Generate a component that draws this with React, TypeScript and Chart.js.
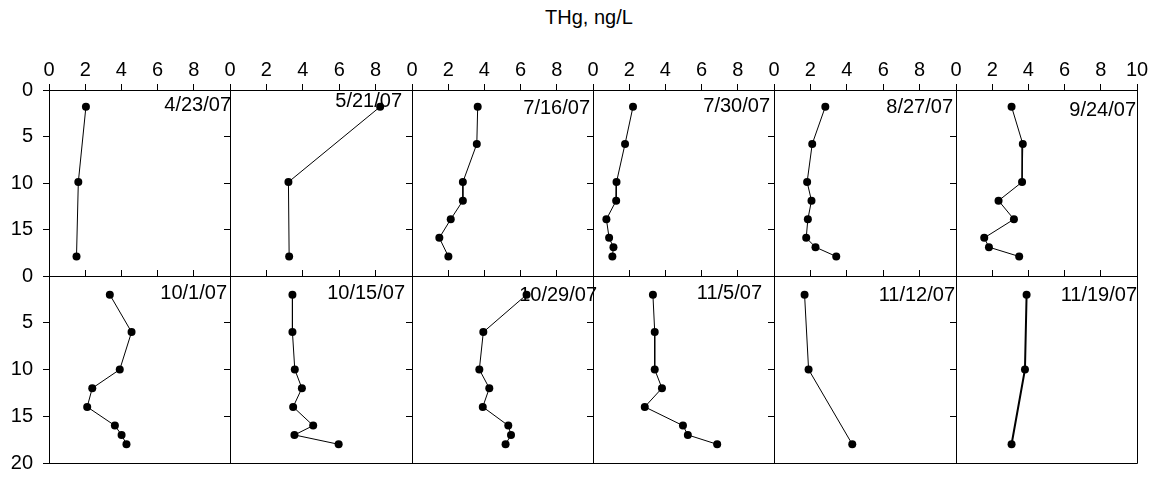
import React, { useEffect, useRef } from 'react';
import { Chart, registerables } from 'chart.js';

Chart.register(...registerables);

const FONT_FAMILY = '"Liberation Sans", Arial, sans-serif';

// ---- Data ----
const dates = ['4/23/07', '5/21/07', '7/16/07', '7/30/07', '8/27/07', '9/24/07',
  '10/1/07', '10/15/07', '10/29/07', '11/5/07', '11/12/07', '11/19/07'];

// depths (m)
const depthTop3 = [1.8, 9.9, 17.9];
const depthTop7 = [1.8, 5.8, 9.9, 11.9, 13.9, 15.9, 17.9];
const depthTop8 = [1.8, 5.8, 9.9, 11.9, 13.9, 15.9, 16.9, 17.9];
const depthBot8 = [2, 6, 10, 12, 14, 16, 17, 18];
const depthBot3 = [2, 10, 18];

// THg, ng/L
const thg0423 = [2.04, 1.62, 1.52];
const thg0521 = [8.25, 3.21, 3.25];
const thg0716 = [3.63, 3.58, 2.81, 2.81, 2.14, 1.51, 2.01];
const thg0730 = [2.21, 1.77, 1.30, 1.28, 0.74, 0.89, 1.13, 1.07];
const thg0827 = [2.82, 2.10, 1.82, 2.06, 1.86, 1.77, 2.28, 3.42];
const thg0924 = [3.07, 3.69, 3.65, 2.35, 3.20, 1.56, 1.82, 3.49];
const thg1001 = [3.36, 4.56, 3.91, 2.39, 2.11, 3.64, 4.01, 4.28];
const thg1015 = [3.43, 3.43, 3.56, 3.95, 3.47, 4.57, 3.54, 5.97];
const thg1029 = [6.33, 3.94, 3.72, 4.27, 3.91, 5.32, 5.47, 5.17];
const thg1105 = [3.31, 3.41, 3.41, 3.81, 2.86, 4.97, 5.24, 6.86];
const thg1112 = [1.68, 1.90, 4.30];
const thg1119 = [3.90, 3.81, 3.07];

const panelValues = [thg0423, thg0521, thg0716, thg0730, thg0827, thg0924,
  thg1001, thg1015, thg1029, thg1105, thg1112, thg1119];
const panelDepths = [depthTop3, depthTop3, depthTop7, depthTop8, depthTop8, depthTop8,
  depthBot8, depthBot8, depthBot8, depthBot8, depthBot3, depthBot3];

const xTickValues = [0, 2, 4, 6, 8, 10];
const yTickValues = [0, 5, 10, 15, 20];
const axisTitle = 'THg, ng/L';

// ---- Styling / layout (not data) ----
const PLOT_LEFT = 49;
const PLOT_RIGHT = 1137;
const ROW_EDGES = [90, 276, 463];
const COLS = 6;
const labelDx = [1, -10, -3, -4, -3, -1, -3, -7, 4, -12, -1, 0];
const labelDy = [15, 11, 18, 16, 17, 20, 17, 17, 19, 17, 19, 19];
const lineWidths = [1, 1, 1, 1, 1, 1, 1, 1, 1, 1, 1, 2];

function zeroPadding(s: any) {
  s.paddingLeft = 0;
  s.paddingRight = 0;
  s.paddingTop = 0;
  s.paddingBottom = 0;
}

function Panel({ index }: { index: number }) {
  const ref = useRef<HTMLCanvasElement | null>(null);
  const row = Math.floor(index / COLS);
  const col = index % COLS;
  const colW = (PLOT_RIGHT - PLOT_LEFT) / COLS;
  const pL = Math.round(PLOT_LEFT + col * colW);
  const pR = Math.round(PLOT_LEFT + (col + 1) * colW);
  const pT = ROW_EDGES[row];
  const pB = ROW_EDGES[row + 1];
  const ML = col === 0 ? pL : 16;
  const MT = row === 0 ? 50 : 24;
  const MR = 20;
  const MB = 15;
  const cLeft = pL - ML;
  const cTop = pT - MT;
  const cW = pR + MR - cLeft;
  const cH = pB + MB - cTop;

  useEffect(() => {
    if (!ref.current) return;
    const vals = panelValues[index];
    const deps = panelDepths[index];
    const points = vals.map((v, i) => ({ x: v, y: deps[i] }));
    const font = { family: FONT_FAMILY, size: 20 };

    const boxPlugin = {
      id: 'boxAndLabel' + index,
      afterDraw(chart: any) {
        const { ctx, chartArea } = chart;
        const l = Math.round(chartArea.left) + 0.5;
        const r = Math.round(chartArea.right) + 0.5;
        const t = Math.round(chartArea.top) + 0.5;
        const b = Math.round(chartArea.bottom) + 0.5;
        ctx.save();
        ctx.strokeStyle = '#000';
        ctx.lineWidth = 1;
        ctx.beginPath();
        ctx.moveTo(r, t);
        ctx.lineTo(r, b);
        ctx.moveTo(l, b);
        ctx.lineTo(r, b);
        ctx.stroke();
        ctx.font = `20px ${FONT_FAMILY}`;
        ctx.fillStyle = '#000';
        ctx.textAlign = 'right';
        ctx.textBaseline = 'middle';
        ctx.fillText(dates[index], chartArea.right + labelDx[index], chartArea.top + labelDy[index]);
        ctx.restore();
      },
    };

    const chart = new Chart(ref.current, {
      type: 'scatter',
      data: {
        datasets: [{
          label: dates[index],
          data: points,
          showLine: true,
          borderColor: '#000',
          borderWidth: lineWidths[index],
          backgroundColor: '#000',
          pointBackgroundColor: '#000',
          pointBorderColor: '#000',
          pointRadius: 4,
          pointBorderWidth: 0,
          tension: 0,
        }],
      },
      options: {
        responsive: false,
        animation: false,
        events: [],
        layout: { padding: { left: 0, top: 0, right: MR, bottom: MB } },
        plugins: {
          legend: { display: false },
          tooltip: { enabled: false },
          title: { display: false },
        },
        scales: {
          x: {
            type: 'linear',
            position: 'top',
            min: 0,
            max: 10,
            afterBuildTicks: (s: any) => { s.ticks = xTickValues.map((v) => ({ value: v })); },
            ticks: {
              display: row === 0,
              autoSkip: false,
              maxRotation: 0,
              color: '#000',
              font,
              padding: 2,
              callback: (v: any) => (v === 10 && col < COLS - 1 ? '' : String(v)),
            },
            grid: { drawOnChartArea: false, drawTicks: true, tickLength: 6, color: '#000', lineWidth: 1 },
            border: { display: true, color: '#000', width: 1 },
            afterFit: (s: any) => { s.height = MT; zeroPadding(s); },
          },
          y: {
            type: 'linear',
            position: 'left',
            reverse: true,
            min: 0,
            max: 20,
            afterBuildTicks: (s: any) => { s.ticks = yTickValues.map((v) => ({ value: v })); },
            ticks: {
              display: col === 0,
              autoSkip: false,
              color: '#000',
              font,
              padding: 10,
              callback: (v: any) => (v === 20 && row === 0 ? '' : String(v)),
            },
            grid: { drawOnChartArea: false, drawTicks: true, tickLength: 6, color: '#000', lineWidth: 1 },
            border: { display: true, color: '#000', width: 1 },
            afterFit: (s: any) => { s.width = ML; zeroPadding(s); },
          },
        },
      },
      plugins: [boxPlugin],
    } as any);
    return () => chart.destroy();
  }, [index]);

  return (
    <canvas
      ref={ref}
      width={cW}
      height={cH}
      style={{ position: 'absolute', left: cLeft, top: cTop, width: cW, height: cH }}
    />
  );
}

export default function App() {
  return (
    <div style={{ position: 'fixed', left: 0, top: 0, width: 1157, height: 478, background: '#fff', overflow: 'hidden' }}>
      <div
        style={{
          position: 'absolute', left: 489, top: 5, width: 200, textAlign: 'center',
          fontFamily: FONT_FAMILY, fontSize: 20, lineHeight: '24px', color: '#000',
        }}
      >
        {axisTitle}
      </div>
      {dates.map((_, i) => <Panel key={i} index={i} />)}
    </div>
  );
}
